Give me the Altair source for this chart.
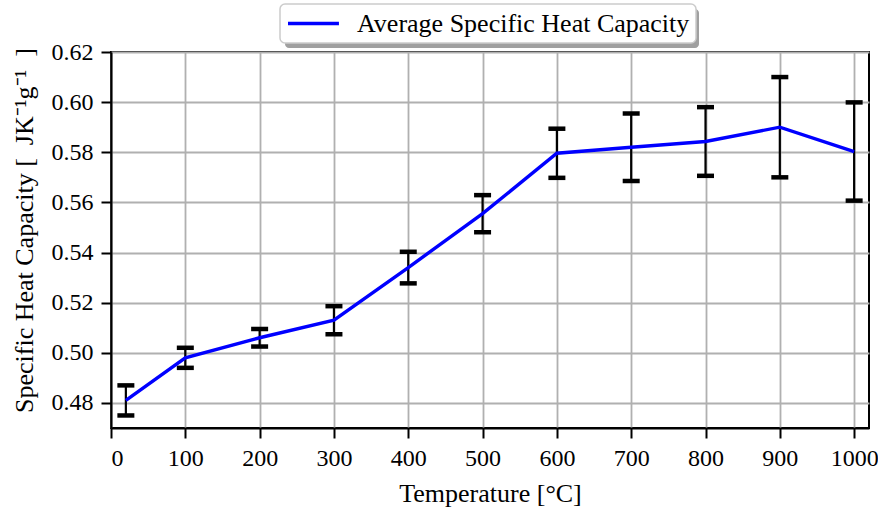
import altair as alt
import pandas as pd

temperature = [20, 100, 200, 300, 400, 500, 600, 700, 800, 900, 1000]
mean_cp = [0.481, 0.498, 0.506, 0.513, 0.534, 0.5555, 0.5796, 0.582, 0.5843, 0.590, 0.5803]
err_cp = [0.006, 0.004, 0.0035, 0.0056, 0.0063, 0.0074, 0.0098, 0.0135, 0.0137, 0.020, 0.0196]
series_name = "Average Specific Heat Capacity"
x_ticks = [0, 100, 200, 300, 400, 500, 600, 700, 800, 900, 1000]
y_ticks = [0.48, 0.50, 0.52, 0.54, 0.56, 0.58, 0.60, 0.62]

df = pd.DataFrame({
    "T": temperature,
    "cp": mean_cp,
    "lo": [m - e for m, e in zip(mean_cp, err_cp)],
    "hi": [m + e for m, e in zip(mean_cp, err_cp)],
    "series": [series_name] * len(temperature),
})

FONT = "Liberation Serif"
W, H = 758, 376

xs = alt.Scale(domain=[0, 1020], nice=False, zero=False)
ys = alt.Scale(domain=[0.47, 0.62], nice=False, zero=False)

x_axis = alt.Axis(values=x_ticks, format="d", title="Temperature [°C]", grid=True)
y_axis = alt.Axis(values=y_ticks, format=".2f",
                  title="Specific Heat Capacity [\u2002JK⁻¹g⁻¹\u2002]", grid=True,
                  titleY=178)

base = alt.Chart(df)

LX, LY = 169, -48
BOX_W, BOX_H = 414, 39

shadow = alt.Chart(pd.DataFrame({"a": [0]})).mark_rect(
    color="#a0a0a0", cornerRadius=4
).encode(
    x=alt.value(LX + 5), x2=alt.value(LX + 5 + BOX_W),
    y=alt.value(LY + 5), y2=alt.value(LY + 5 + BOX_H)
)

rules = base.mark_rule(color="black", strokeWidth=2.2).encode(
    x=alt.X("T:Q", scale=xs, axis=x_axis),
    y=alt.Y("lo:Q", scale=ys, axis=y_axis),
    y2="hi:Q",
)
caps_lo = base.mark_tick(color="black", opacity=1, orient="horizontal", size=17, thickness=4.5).encode(
    x=alt.X("T:Q", scale=xs), y=alt.Y("lo:Q", scale=ys)
)
caps_hi = base.mark_tick(color="black", opacity=1, orient="horizontal", size=17, thickness=4.5).encode(
    x=alt.X("T:Q", scale=xs), y=alt.Y("hi:Q", scale=ys)
)
line = base.mark_line(strokeWidth=3.4).encode(
    x=alt.X("T:Q", scale=xs),
    y=alt.Y("cp:Q", scale=ys),
    color=alt.Color(
        "series:N",
        scale=alt.Scale(domain=[series_name], range=["#0000ff"]),
        legend=alt.Legend(
            title=None, orient="none", legendX=LX, legendY=LY,
            symbolType="M-1,0L3.43,0", symbolSize=529, symbolStrokeWidth=3.4,
            labelFont=FONT, labelFontSize=26, labelColor="black", labelLimit=600,
            labelOffset=44, padding=6, fillColor="white", strokeColor="#cccccc",
            cornerRadius=5,
        ),
    ),
)

chart = alt.layer(shadow, rules, caps_lo, caps_hi, line).properties(
    width=W, height=H,
    autosize=alt.AutoSizeParams(type="none"),
    padding={"left": 111, "top": 52, "right": 9, "bottom": 80},
    background="white",
).configure_view(
    stroke="black", strokeWidth=2
).configure_legend(
    strokeWidth=1.5
).configure_axis(
    domainColor="black", domainWidth=2, tickColor="black", tickWidth=2,
    tickSize=10, gridColor="#b0b0b0", gridWidth=1.8,
    labelFont=FONT, labelFontSize=24, labelColor="black", labelPadding=8,
    titleFont=FONT, titleFontSize=26, titleColor="black", titleFontWeight="normal",
).configure_axisX(
    titlePadding=10
).configure_axisY(
    titlePadding=14
)

chart.save("out.html", embed_options={"renderer": "svg", "actions": False})
